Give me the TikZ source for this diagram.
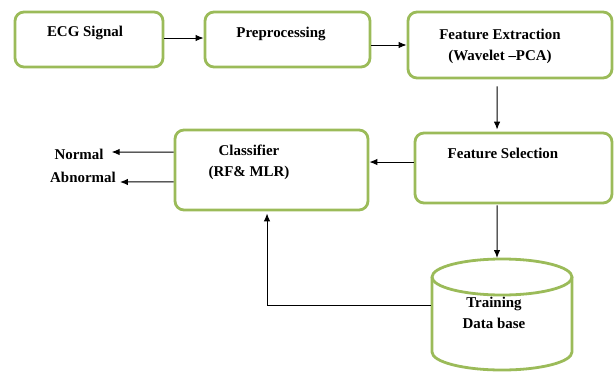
\documentclass[tikz,border=0pt]{standalone}
\usepackage{fontspec}
\setmainfont{Liberation Serif}[BoldFont={Liberation Serif Bold}]
\usetikzlibrary{arrows.meta}
\definecolor{boxgreen}{RGB}{155,187,89}
\tikzset{
  blk/.style={draw=boxgreen,line width=2.8bp,rounded corners=9bp,inner sep=0pt},
  txt/.style={font=\bfseries\fontsize{15}{21}\selectfont,align=center,inner sep=0pt},
  arr/.style={-{Latex[length=8bp,width=6.5bp]},line width=1bp}
}
\begin{document}
\begin{tikzpicture}[x=1bp,y=1bp]
\useasboundingbox(0,0) rectangle (615,372);
% boxes
\node[blk,minimum width=148bp,minimum height=55bp] (ecg)  at (89,332.5)  {};
\node[blk,minimum width=165bp,minimum height=55bp] (prep) at (287.5,332.5) {};
\node[blk,minimum width=204bp,minimum height=66bp] (fe)   at (510,327)   {};
\node[blk,minimum width=197bp,minimum height=70bp] (fs)   at (513.5,204) {};
\node[blk,minimum width=193bp,minimum height=80bp] (cls)  at (271.5,202) {};
% data base
\draw[draw=boxgreen,line width=2.8bp] (432,95) -- (432,20)
  arc[start angle=180,end angle=360,x radius=70,y radius=18] -- (572,95);
\draw[draw=boxgreen,line width=2.8bp] (502,95) ellipse[x radius=70,y radius=18];
\coordinate (dbtop) at (497,114);
\coordinate (dbleft) at (431,67);
% texts
\node[txt] (ecgtxt)  at (85,339)  {ECG Signal};
\node[txt] (preptxt) at (281,338) {Preprocessing};
\node[txt] (fetxt)   at (500,326) {Feature Extraction\\(Wavelet --PCA)};
\node[txt] (fstxt)   at (503,219) {Feature Selection};
\node[txt] (clstxt)  at (249,210) {Classifier\\(RF\& MLR)};
\node[txt] (dbtxt)   at (494,59)  {Training\\Data base};
\node[txt] (nrm)     at (79,218)  {Normal};
\node[txt] (abn)     at (83,195)  {Abnormal};
% arrows
\draw[arr] ([yshift=1.5]ecg.east) -- ([yshift=1.5]prep.west);
\draw[arr] (prep.east |- fe.west) -- (fe.west);
\draw[arr] ([xshift=-13,yshift=-7]fe.south) -- ([xshift=-16.5,yshift=2]fs.north);
\draw[arr] ([yshift=6]fs.west) -- ([yshift=6]fs.west -| cls.east);
\draw[arr] ([xshift=-16.5,yshift=-1]fs.south) -- (dbtop);
\draw[arr] (dbleft) -| ([xshift=-4.5,yshift=-2]cls.south);
\draw[arr] ([yshift=18]cls.west) -- ([xshift=8]nrm.east |- 0,220);
\draw[arr] ([yshift=-12]cls.west) -- ([xshift=4]abn.east |- 0,190);
\end{tikzpicture}
\end{document}
